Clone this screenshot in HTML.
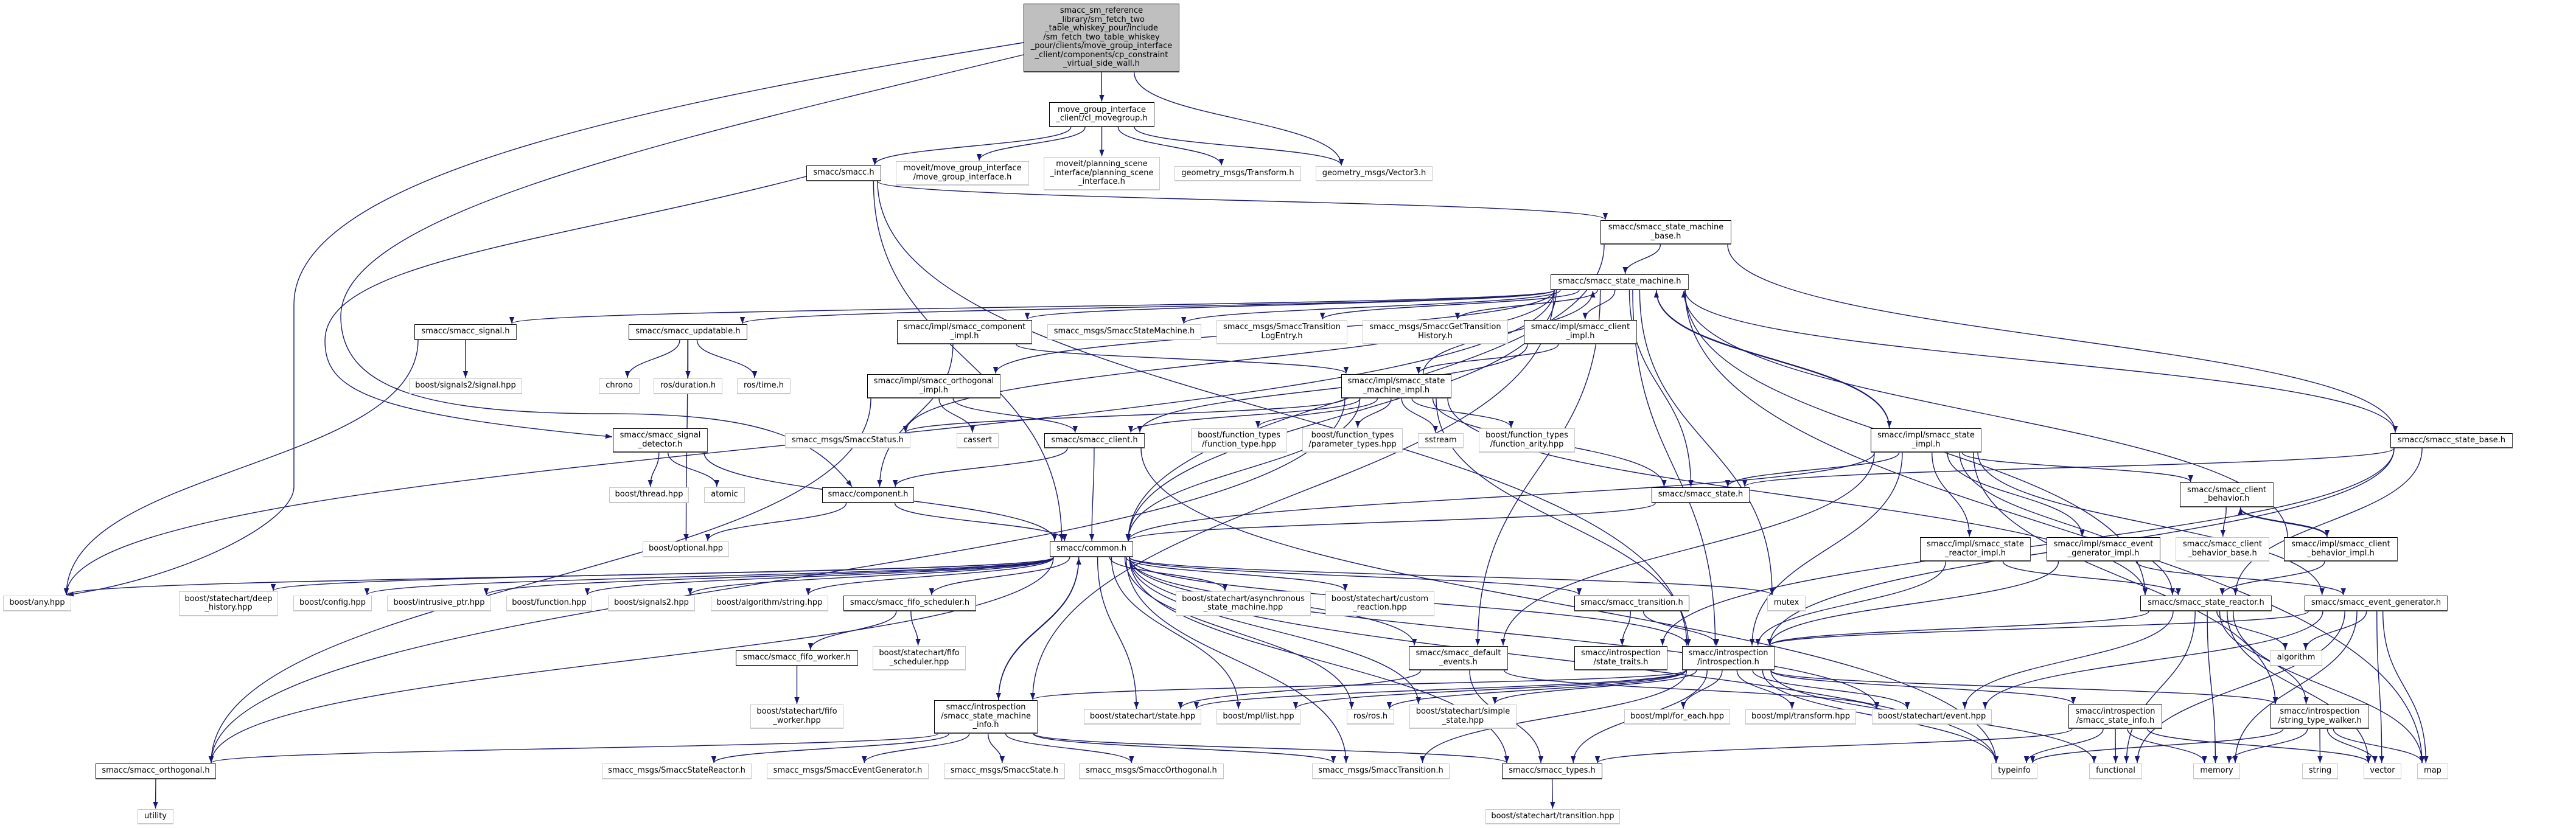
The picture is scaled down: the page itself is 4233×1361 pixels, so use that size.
<!DOCTYPE html>
<html><head><meta charset="utf-8">
<style>
html,body{margin:0;padding:0;background:#fff;}
#c{position:relative;width:4233px;height:1361px;overflow:hidden;background:#fff;}
.n{position:absolute;box-sizing:border-box;background:#fff;border:1px solid #000;border-bottom:2.5px solid #444;border-right:1.5px solid #444;display:flex;align-items:center;justify-content:center;text-align:center;font-family:"DejaVu Sans","Liberation Sans",sans-serif;font-size:13px;line-height:14.5px;color:#000;white-space:nowrap;z-index:2;}
.g{border:1.5px solid #c8c8c8;border-bottom:2.5px solid #c8c8c8;}
.top{background:#bfbfbf;}
svg{position:absolute;left:0;top:0;z-index:1;}
</style></head><body>
<div id="c">
<svg id="s" width="4233" height="1361" viewBox="0 0 4233 1361">
<defs><marker id="a" markerUnits="userSpaceOnUse" markerWidth="12" markerHeight="10" refX="11" refY="5" orient="auto"><path d="M0,0.8 L11,5 L0,9.2 z" fill="#191970"/></marker></defs>
<g fill="none" stroke="#191970" stroke-width="1.4">
<path d="M1682,70 C1000,180 483,300 483,500 L483,800 C483,860 300,950 110,978" marker-end="url(#a)"/>
<path d="M1325,290 C900,400 534,430 534,560 C534,640 600,680 1006,718" marker-end="url(#a)"/>
<path d="M1682,90 C1100,230 560,350 560,520 C560,640 700,680 1000,680 C1250,680 1340,720 1400,800" marker-end="url(#a)"/>
</g>
<g id="eg" fill="none" stroke="#191970" stroke-width="1.4"></g>
</svg>
<div class="n top" id="top" data-r="1682,6,1938,119">smacc_sm_reference<br>_library/sm_fetch_two<br>_table_whiskey_pour/include<br>/sm_fetch_two_table_whiskey<br>_pour/clients/move_group_interface<br>_client/components/cp_constraint<br>_virtual_side_wall.h</div>
<div class="n" id="mg" data-r="1724,168,1897,209">move_group_interface<br>_client/cl_movegroup.h</div>
<div class="n" id="smacc" data-r="1325,272,1448,298">smacc/smacc.h</div>
<div class="n g" id="mgi" data-r="1472,265,1691,305">moveit/move_group_interface<br>/move_group_interface.h</div>
<div class="n g" id="psi" data-r="1715,258,1906,313">moveit/planning_scene<br>_interface/planning_scene<br>_interface.h</div>
<div class="n g" id="tf" data-r="1930,273,2138,298">geometry_msgs/Transform.h</div>
<div class="n g" id="v3" data-r="2162,273,2354,298">geometry_msgs/Vector3.h</div>
<div class="n" id="smb" data-r="2630,362,2845,402">smacc/smacc_state_machine<br>_base.h</div>
<div class="n" id="sm" data-r="2548,451,2775,477">smacc/smacc_state_machine.h</div>
<div class="n" id="sig" data-r="681,533,849,559">smacc/smacc_signal.h</div>
<div class="n" id="upd" data-r="1033,533,1228,559">smacc/smacc_updatable.h</div>
<div class="n" id="compimpl" data-r="1474,526,1696,566">smacc/impl/smacc_component<br>_impl.h</div>
<div class="n g" id="ssm" data-r="1721,533,1974,559">smacc_msgs/SmaccStateMachine.h</div>
<div class="n g" id="tle" data-r="1999,526,2214,566">smacc_msgs/SmaccTransition<br>LogEntry.h</div>
<div class="n g" id="gth" data-r="2239,526,2478,566">smacc_msgs/SmaccGetTransition<br>History.h</div>
<div class="n" id="climpl" data-r="2504,526,2690,566">smacc/impl/smacc_client<br>_impl.h</div>
<div class="n g" id="s2sig" data-r="672,622,858,648">boost/signals2/signal.hpp</div>
<div class="n g" id="chrono" data-r="984,622,1051,648">chrono</div>
<div class="n g" id="dur" data-r="1074,622,1187,648">ros/duration.h</div>
<div class="n g" id="time" data-r="1211,622,1299,648">ros/time.h</div>
<div class="n" id="orthimpl" data-r="1425,615,1644,655">smacc/impl/smacc_orthogonal<br>_impl.h</div>
<div class="n" id="smimpl" data-r="2204,615,2385,655">smacc/impl/smacc_state<br>_machine_impl.h</div>
<div class="n" id="sigdet" data-r="1007,704,1163,744">smacc/smacc_signal<br>_detector.h</div>
<div class="n g" id="status" data-r="1290,712,1496,737">smacc_msgs/SmaccStatus.h</div>
<div class="n g" id="cassert" data-r="1572,712,1641,737">cassert</div>
<div class="n" id="client" data-r="1716,712,1881,737">smacc/smacc_client.h</div>
<div class="n g" id="ft" data-r="1957,704,2115,744">boost/function_types<br>/function_type.hpp</div>
<div class="n g" id="pt" data-r="2140,704,2305,744">boost/function_types<br>/parameter_types.hpp</div>
<div class="n g" id="sstream" data-r="2330,712,2405,737">sstream</div>
<div class="n g" id="fa" data-r="2430,704,2588,744">boost/function_types<br>/function_arity.hpp</div>
<div class="n" id="stimpl" data-r="3074,704,3256,744">smacc/impl/smacc_state<br>_impl.h</div>
<div class="n" id="stbase" data-r="3928,712,4129,737">smacc/smacc_state_base.h</div>
<div class="n g" id="thread" data-r="1001,801,1132,827">boost/thread.hpp</div>
<div class="n g" id="atomic" data-r="1157,801,1224,827">atomic</div>
<div class="n" id="comp" data-r="1351,801,1502,827">smacc/component.h</div>
<div class="n" id="state" data-r="2714,801,2875,827">smacc/smacc_state.h</div>
<div class="n" id="cb" data-r="3582,793,3736,834">smacc/smacc_client<br>_behavior.h</div>
<div class="n g" id="opt" data-r="1056,890,1198,916">boost/optional.hpp</div>
<div class="n" id="common" data-r="1725,890,1862,916">smacc/common.h</div>
<div class="n" id="srimpl" data-r="3155,883,3337,923">smacc/impl/smacc_state<br>_reactor_impl.h</div>
<div class="n" id="egimpl" data-r="3363,883,3550,923">smacc/impl/smacc_event<br>_generator_impl.h</div>
<div class="n g" id="cbb" data-r="3575,883,3729,923">smacc/smacc_client<br>_behavior_base.h</div>
<div class="n" id="cbimpl" data-r="3753,883,3940,923">smacc/impl/smacc_client<br>_behavior_impl.h</div>
<div class="n g" id="any" data-r="5,979,117,1005">boost/any.hpp</div>
<div class="n g" id="deep" data-r="294,972,457,1013">boost/statechart/deep<br>_history.hpp</div>
<div class="n g" id="config" data-r="482,979,611,1005">boost/config.hpp</div>
<div class="n g" id="iptr" data-r="636,979,807,1005">boost/intrusive_ptr.hpp</div>
<div class="n g" id="func" data-r="832,979,973,1005">boost/function.hpp</div>
<div class="n g" id="sig2" data-r="999,979,1142,1005">boost/signals2.hpp</div>
<div class="n g" id="algstr" data-r="1168,979,1361,1005">boost/algorithm/string.hpp</div>
<div class="n" id="fifos" data-r="1386,979,1604,1005">smacc/smacc_fifo_scheduler.h</div>
<div class="n g" id="async" data-r="1932,972,2154,1013">boost/statechart/asynchronous<br>_state_machine.hpp</div>
<div class="n g" id="custom" data-r="2178,972,2357,1013">boost/statechart/custom<br>_reaction.hpp</div>
<div class="n" id="trans" data-r="2587,979,2776,1005">smacc/smacc_transition.h</div>
<div class="n g" id="mutex" data-r="2904,979,2967,1005">mutex</div>
<div class="n" id="sr" data-r="3517,979,3733,1005">smacc/smacc_state_reactor.h</div>
<div class="n" id="eg2" data-r="3787,979,4022,1005">smacc/smacc_event_generator.h</div>
<div class="n" id="fifow" data-r="1209,1069,1410,1095">smacc/smacc_fifo_worker.h</div>
<div class="n g" id="fifosh" data-r="1434,1062,1587,1102">boost/statechart/fifo<br>_scheduler.hpp</div>
<div class="n" id="defev" data-r="2315,1062,2478,1102">smacc/smacc_default<br>_events.h</div>
<div class="n" id="traits" data-r="2587,1062,2740,1102">smacc/introspection<br>/state_traits.h</div>
<div class="n" id="intro" data-r="2764,1062,2916,1102">smacc/introspection<br>/introspection.h</div>
<div class="n g" id="algo" data-r="3730,1069,3816,1095">algorithm</div>
<div class="n g" id="fifowh" data-r="1233,1158,1386,1198">boost/statechart/fifo<br>_worker.hpp</div>
<div class="n" id="sminfo" data-r="1535,1151,1705,1206">smacc/introspection<br>/smacc_state_machine<br>_info.h</div>
<div class="n g" id="statehpp" data-r="1781,1166,1974,1191">boost/statechart/state.hpp</div>
<div class="n g" id="list" data-r="1999,1166,2137,1191">boost/mpl/list.hpp</div>
<div class="n g" id="ros" data-r="2213,1166,2291,1191">ros/ros.h</div>
<div class="n g" id="simple" data-r="2316,1158,2492,1198">boost/statechart/simple<br>_state.hpp</div>
<div class="n g" id="foreach" data-r="2669,1166,2843,1191">boost/mpl/for_each.hpp</div>
<div class="n g" id="transform" data-r="2868,1166,3050,1191">boost/mpl/transform.hpp</div>
<div class="n g" id="event" data-r="3076,1166,3273,1191">boost/statechart/event.hpp</div>
<div class="n" id="stinfo" data-r="3399,1158,3553,1198">smacc/introspection<br>/smacc_state_info.h</div>
<div class="n" id="stw" data-r="3731,1158,3893,1198">smacc/introspection<br>/string_type_walker.h</div>
<div class="n" id="orth" data-r="157,1255,355,1281">smacc/smacc_orthogonal.h</div>
<div class="n g" id="ssr" data-r="989,1255,1235,1281">smacc_msgs/SmaccStateReactor.h</div>
<div class="n g" id="seg" data-r="1260,1255,1526,1281">smacc_msgs/SmaccEventGenerator.h</div>
<div class="n g" id="ss" data-r="1551,1255,1750,1281">smacc_msgs/SmaccState.h</div>
<div class="n g" id="so" data-r="1773,1255,2011,1281">smacc_msgs/SmaccOrthogonal.h</div>
<div class="n g" id="st" data-r="2156,1255,2382,1281">smacc_msgs/SmaccTransition.h</div>
<div class="n" id="types" data-r="2468,1255,2633,1281">smacc/smacc_types.h</div>
<div class="n g" id="typeinfo" data-r="3272,1255,3348,1281">typeinfo</div>
<div class="n g" id="functional" data-r="3433,1255,3520,1281">functional</div>
<div class="n g" id="memory" data-r="3604,1255,3681,1281">memory</div>
<div class="n g" id="string" data-r="3783,1255,3842,1281">string</div>
<div class="n g" id="vector" data-r="3884,1255,3946,1281">vector</div>
<div class="n g" id="map" data-r="3972,1255,4023,1281">map</div>
<div class="n g" id="utility" data-r="226,1330,285,1355">utility</div>
<div class="n g" id="transhpp" data-r="2441,1330,2662,1355">boost/statechart/transition.hpp</div>
</div>
<script>
(function(){
var R={};
var ns=document.querySelectorAll('.n');
for(var i=0;i<ns.length;i++){var e=ns[i];var r=e.getAttribute('data-r').split(',').map(Number);
e.style.left=r[0]+'px';e.style.top=r[1]+'px';e.style.width=(r[2]-r[0])+'px';e.style.height=(r[3]-r[1])+'px';R[e.id]=r;}
var E="top>mg top>v3 mg>smacc mg>mgi mg>psi mg>tf mg>v3 smacc>smb smacc>intro smacc>common "+
"smb>sm smb>common smb>stbase "+
"sm>sig sm>upd sm>compimpl sm>ssm sm>tle sm>gth sm>climpl sm>orthimpl sm>status sm>any sm>sminfo sm>common sm>state sm>stimpl sm>intro sm>mutex sm>map sm>sr sm>defev sm>stbase "+
"smimpl>sm smimpl>client smimpl>status smimpl>orth smimpl>ft smimpl>pt smimpl>sstream smimpl>fa smimpl>state smimpl>sr smimpl>intro smimpl>common "+
"compimpl>smimpl compimpl>comp climpl>smimpl climpl>client orthimpl>cassert orthimpl>client orthimpl>orth "+
"sig>s2sig sig>any upd>chrono upd>dur upd>time upd>opt sigdet>thread sigdet>atomic sigdet>common "+
"client>comp client>common client>typeinfo comp>opt comp>common "+
"stimpl>sm stimpl>state stimpl>common stimpl>srimpl stimpl>egimpl stimpl>cb stimpl>intro stimpl>sr stimpl>eg2 stimpl>stw stimpl>defev "+
"stbase>state stbase>sr stbase>intro stbase>traits state>common cb>cbb cb>cbimpl cbimpl>cb cbimpl>sm cbimpl>sr "+
"srimpl>sr srimpl>intro egimpl>eg2 egimpl>intro "+
"common>any common>deep common>config common>iptr common>func common>sig2 common>algstr common>fifos common>async common>custom common>trans common>defev common>intro common>sminfo common>statehpp common>list common>ros common>simple common>event common>orth common>types common>st common>mutex common>typeinfo "+
"fifos>fifow fifos>fifosh fifow>fifowh trans>traits trans>intro defev>statehpp defev>types defev>event "+
"intro>sminfo intro>statehpp intro>list intro>ros intro>simple intro>foreach intro>transform intro>event intro>stinfo intro>stw intro>types intro>st intro>typeinfo intro>functional "+
"sminfo>common sminfo>orth sminfo>ssr sminfo>seg sminfo>ss sminfo>so sminfo>st sminfo>types "+
"sr>intro sr>event sr>functional sr>memory sr>algo sr>vector sr>map sr>stw "+
"eg2>intro eg2>algo eg2>event eg2>memory eg2>functional eg2>vector eg2>map "+
"stinfo>typeinfo stinfo>functional stinfo>memory stinfo>vector stinfo>types "+
"stw>typeinfo stw>memory stw>string stw>vector stw>map orth>utility types>transhpp";
var g=document.getElementById('eg');var out='';
function cl(v,m){return Math.max(-m,Math.min(m,v));}
E.split(/\s+/).forEach(function(p){if(!p)return;var q=p.split('>');var s=R[q[0]],t=R[q[1]];if(!s||!t)return;
var scx=(s[0]+s[2])/2,tcx=(t[0]+t[2])/2,sw=(s[2]-s[0])/2-6,tw=(t[2]-t[0])/2-8;
var sx=scx+cl((tcx-scx)*0.12,sw),tx=tcx+cl((scx-tcx)*0.12,tw);var d;
if(t[1]>=s[3]-4){var sy=s[3],ty=t[1]-1,k=(ty-sy)*0.5;d='M'+sx+','+sy+' C'+sx+','+(sy+k)+' '+tx+','+(ty-k)+' '+tx+','+ty;}
else if(t[3]<=s[1]+4){var sy=s[1],ty=t[3]+1,k=(sy-ty)*0.5;d='M'+sx+','+sy+' C'+sx+','+(sy-k)+' '+tx+','+(ty+k)+' '+tx+','+ty;}
else{var sy=(s[1]+s[3])/2,ty=(t[1]+t[3])/2;var x1,x2;if(tcx>scx){x1=s[2];x2=t[0]-1;}else{x1=s[0];x2=t[2]+1;}
d='M'+x1+','+sy+' C'+(x1+x2)/2+','+sy+' '+(x1+x2)/2+','+ty+' '+x2+','+ty;}
out+='<path d="'+d+'" marker-end="url(#a)"/>';});
g.innerHTML=out;
})();
</script>
</body></html>
